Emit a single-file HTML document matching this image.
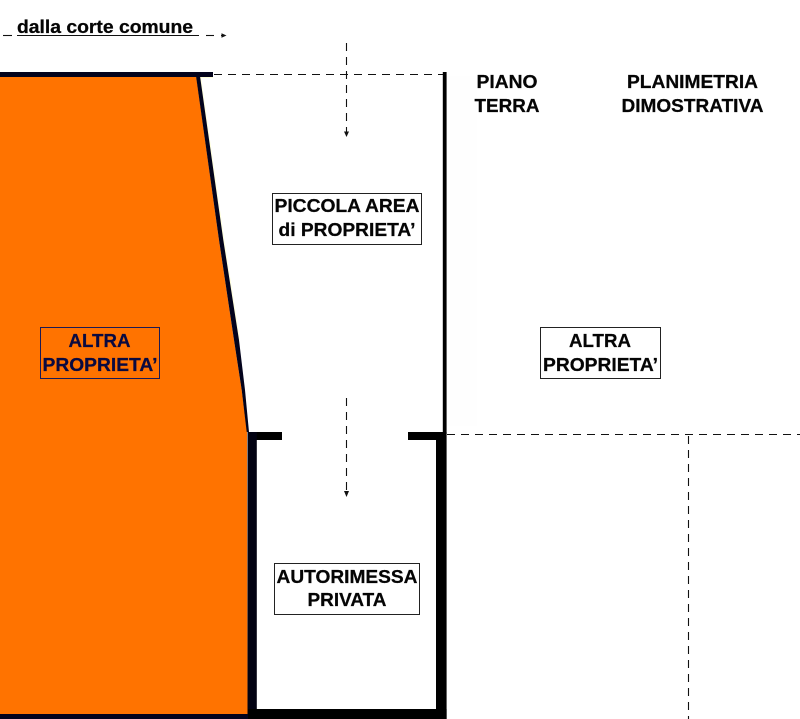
<!DOCTYPE html>
<html>
<head>
<meta charset="utf-8">
<style>
html,body{margin:0;padding:0;background:#fff;width:800px;height:719px;overflow:hidden}
svg{display:block}
text{font-family:"Liberation Sans",sans-serif;font-weight:bold;font-size:18px;fill:#050505;stroke:#050505;stroke-width:.25;text-anchor:middle}
</style>
</head>
<body>
<svg width="800" height="719" viewBox="0 0 800 719" xmlns="http://www.w3.org/2000/svg">
<rect width="800" height="719" fill="#fff"/>
<rect x="447" y="76" width="30" height="350" fill="#fefefe"/>
<!-- orange area -->
<polygon points="0,75 196,75 219,240 234,340 241.7,390 247,432 247.5,714 0,714" fill="#ff7300"/>
<!-- thin yellow fringe -->
<polyline points="200.5,77 223.8,240 239.5,340" fill="none" stroke="#ffffd8" stroke-width="1"/>
<rect x="199" y="77" width="14" height="1" fill="#ffffd8"/>
<!-- walls -->
<rect x="0" y="72" width="213" height="5" fill="#03031c"/>
<polygon points="196,76 200,76 223.3,240 239,340 245,390 249,432 246.7,432 241.7,390 234,340 219,240" fill="#03031c"/>
<rect x="442.8" y="72" width="3.8" height="362" fill="#000"/>
<rect x="248" y="432" width="34" height="8" fill="#000"/>
<rect x="408" y="432" width="36" height="8" fill="#000"/>
<rect x="247.5" y="432" width="9.3" height="287" fill="#020212"/>
<rect x="436" y="432" width="10.6" height="287" fill="#000"/>
<rect x="248" y="709" width="198.6" height="10" fill="#000"/>
<rect x="0" y="714" width="248" height="5" fill="#03031c"/>
<!-- dashed lines -->
<g fill="none" stroke="#111" stroke-width="1.1" stroke-dasharray="8 6">
<line x1="214" y1="74.5" x2="443" y2="74.5"/>
<line x1="346.5" y1="43" x2="346.5" y2="133"/>
<line x1="346.5" y1="398" x2="346.5" y2="492"/>
<line x1="447" y1="434.5" x2="800" y2="434.5"/>
<line x1="688.5" y1="436" x2="688.5" y2="719"/>
<line x1="3" y1="35.5" x2="12" y2="35.5" stroke-dasharray="none"/>
<line x1="206" y1="35.5" x2="214" y2="35.5" stroke-dasharray="none"/>
<line x1="221" y1="35.5" x2="224" y2="35.5" stroke-dasharray="none"/>
</g>
<polygon points="344,131.5 349,131.5 346.5,137" fill="#111"/>
<polygon points="344,491 349,491 346.5,497" fill="#111"/>
<polygon points="221.5,33.2 221.5,37.8 226.5,35.5" fill="#111"/>
<!-- top label -->
<line x1="17" y1="35.5" x2="199" y2="35.5" stroke="#111" stroke-width="1"/>
<text x="105" y="33" textLength="176" lengthAdjust="spacingAndGlyphs">dalla corte comune</text>
<!-- title -->
<text x="507" y="88" textLength="61" lengthAdjust="spacingAndGlyphs">PIANO</text>
<text x="507" y="112" textLength="65" lengthAdjust="spacingAndGlyphs">TERRA</text>
<text x="692.5" y="88" textLength="131" lengthAdjust="spacingAndGlyphs">PLANIMETRIA</text>
<text x="692.5" y="112" textLength="142" lengthAdjust="spacingAndGlyphs">DIMOSTRATIVA</text>
<!-- boxes -->
<rect x="272.5" y="193.5" width="149" height="51" fill="#fff" stroke="#222" stroke-width="1"/>
<text x="347" y="212" textLength="145" lengthAdjust="spacingAndGlyphs">PICCOLA AREA</text>
<text x="347" y="236" textLength="137" lengthAdjust="spacingAndGlyphs">di PROPRIETA’</text>
<rect x="40.5" y="327.5" width="119" height="51" fill="#ff7300" stroke="#1a1a55" stroke-width="1"/>
<text x="99.5" y="347" style="fill:#0a0a40;stroke:#0a0a40" textLength="62" lengthAdjust="spacingAndGlyphs">ALTRA</text>
<text x="100" y="371" style="fill:#0a0a40;stroke:#0a0a40" textLength="115" lengthAdjust="spacingAndGlyphs">PROPRIETA’</text>
<rect x="540.5" y="327.5" width="120" height="51" fill="#fff" stroke="#222" stroke-width="1"/>
<text x="600" y="347" textLength="62" lengthAdjust="spacingAndGlyphs">ALTRA</text>
<text x="600.5" y="371" textLength="115" lengthAdjust="spacingAndGlyphs">PROPRIETA’</text>
<rect x="274.5" y="563.5" width="145" height="51" fill="#fff" stroke="#222" stroke-width="1"/>
<text x="347" y="583" textLength="141" lengthAdjust="spacingAndGlyphs">AUTORIMESSA</text>
<text x="347" y="606" textLength="79" lengthAdjust="spacingAndGlyphs">PRIVATA</text>
</svg>
</body>
</html>
